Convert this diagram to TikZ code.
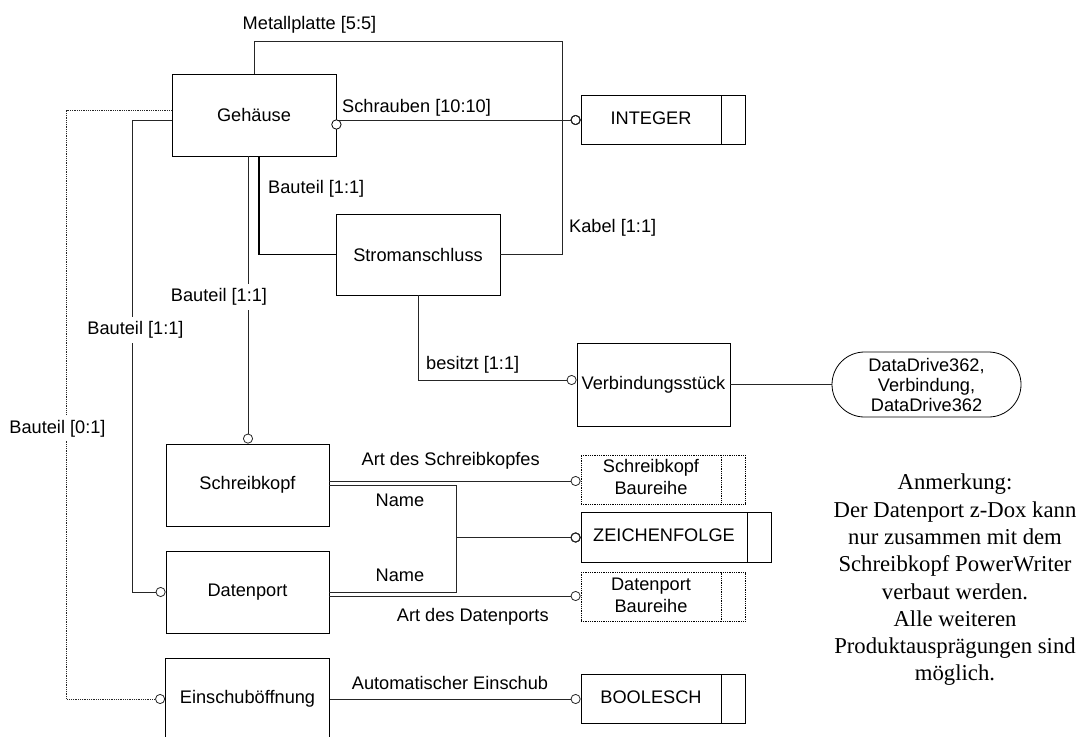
\documentclass[tikz,border=0pt]{standalone}
\usepackage{fontspec}
\setmainfont{Liberation Sans}
\newfontfamily\annofont{Liberation Serif}
\usetikzlibrary{arrows.meta,calc,shapes.misc}
\newcommand\lblsize{\fontsize{18.2}{21}\selectfont}
\newcommand\domtxt[1]{\begin{tabular}{@{}c@{}}#1\end{tabular}\kern24pt}
\begin{document}
\begin{tikzpicture}[x=1pt,y=-1pt,font=\lblsize,
  ent/.style={draw, line width=0.8pt, rectangle, inner sep=0pt, minimum width=164pt, minimum height=82pt},
  dom/.style={draw, line width=0.8pt, rectangle, inner sep=0pt, minimum width=164pt, minimum height=49pt,
     path picture={\draw[line width=0.8pt,#1] ([xshift=-24pt]path picture bounding box.north east) -- ([xshift=-24pt]path picture bounding box.south east);}},
  dom/.default=solid,
  rel/.style={line width=0.8pt, draw=black!85},
  circtip/.style={-{Circle[open,length=10pt,width=10pt,line width=0.8pt]}},
  lab/.style={inner sep=0pt, anchor=base},
  labw/.style={inner sep=0pt, anchor=base west},
  labf/.style={lab, fill=white, inner ysep=4pt, text height=14pt, text depth=4pt}
]
\useasboundingbox (0,0) rectangle (1083,736);

% entities
\node[ent] (geh) at (254,115) {Gehäuse};
\node[ent, minimum height=81pt] (strom) at (418,254.5) {Stromanschluss};
\node[ent, minimum width=153pt, minimum height=83pt] (verb) at (653.5,384.5) {Verbindungsstück};
\node[ent, minimum width=163pt] (schreib) at (247.5,485) {Schreibkopf};
\node[ent, minimum width=163pt] (daten) at (247.5,592) {Datenport};
\node[ent, minimum width=164pt] (einsch) at (247.5,699) {Einschuböffnung};

% domains
\node[dom] (integer) at (663,120) {\domtxt{INTEGER}};
\node[dom=densely dotted, densely dotted] (skbr) at (663,479.5) {\fontsize{18.2}{22}\selectfont\domtxt{Schreibkopf\\Baureihe}};
\node[dom, minimum width=190pt, minimum height=50pt] (zeichen) at (676,537.5) {\domtxt{ZEICHENFOLGE}};
\node[dom=densely dotted, densely dotted] (dpbr) at (663,597) {\fontsize{18.2}{22}\selectfont\domtxt{Datenport\\Baureihe}};
\node[dom] (bool) at (663,699) {\domtxt{BOOLESCH}};

% value
\node[draw, line width=0.8pt, rounded rectangle, inner sep=0pt, minimum width=189pt, minimum height=65pt, align=center, font=\fontsize{18.2}{20}\selectfont] (dd) at (926.5,384.5) {DataDrive362,\\Verbindung,\\DataDrive362};

% connectors
\draw[rel, circtip] (geh.north) |- (562,41) |- (integer.west);
\draw[rel, circtip] (geh.east |- integer.west) -- (integer.west);
\draw[line width=0.8pt, fill=white] ($(geh.east)+(0,9.5)$) circle[radius=4.7];
\draw[rel, circtip] (strom.east) -| (562,120) -- (integer.west);
\draw[rel, line width=1.1pt, draw=black] ($(geh.south)+(5,0)$) |- (strom.west);
\coordinate (gs) at ($(geh.south)+(-6,0)$);
\draw[rel, circtip] (gs) -- (gs |- schreib.north);
\draw[rel, circtip] ($(geh.west)+(0,5)$) -- ++(-39,0) |- (daten.west);
\draw[rel, densely dotted, circtip] ($(geh.west)+(0,-5)$) -- ++(-105,0) |- (einsch.west);
\draw[rel, circtip] (strom.south) |- ($(verb.west)+(0,-4.5)$);
\draw[rel] (verb.east) -- (dd.west);

\coordinate (s1) at ($(schreib.east)+(0,-4)$);
\coordinate (d2) at ($(daten.east)+(0,4)$);
\draw[rel, circtip] (s1) -- (s1 -| skbr.west);
\draw[rel, circtip] (schreib.east) -| (456,537.5) -- (zeichen.west);
\draw[rel, circtip] (daten.east) -| (456,537.5) -- (zeichen.west);
\draw[rel, line width=1.1pt, circtip] (456,537.5) -- (zeichen.west);
\draw[rel, circtip] (d2) -- (d2 -| dpbr.west);
\draw[rel, circtip] (einsch.east) -- (bool.west);

% labels
\node[lab] (l1) at (309.5,29.5) {Metallplatte [5:5]};
\node[labw] (l2) at (342,112.5) {Schrauben [10:10]};
\node[labw] (l3) at (268,193.5) {Bauteil [1:1]};
\node[labw] (l4) at (569,232.5) {Kabel [1:1]};
\node[labf] (l5) at (219,301.5) {Bauteil [1:1]};
\node[labf] (l6) at (135.5,334.5) {Bauteil [1:1]};
\node[labf] (l7) at (57.5,433) {Bauteil [0:1]};
\node[lab] (l8) at (472.7,369.5) {besitzt [1:1]};
\node[lab] (l9) at (450.7,465.5) {Art des Schreibkopfes};
\node[lab] (l10) at (400,506.5) {Name};
\node[lab] (l11) at (400,581.5) {Name};
\node[labw] (l12) at (396.7,621.5) {Art des Datenports};
\node[lab] (l13) at (450,689.5) {Automatischer Einschub};

\node[align=center, inner sep=0pt, font=\annofont\fontsize{22.7}{27.3}\selectfont] (note) at (955,580) {Anmerkung:\\Der Datenport z-Dox kann\\nur zusammen mit dem\\Schreibkopf PowerWriter\\verbaut werden.\\Alle weiteren\\Produktausprägungen sind\\möglich.};
\end{tikzpicture}
\end{document}
